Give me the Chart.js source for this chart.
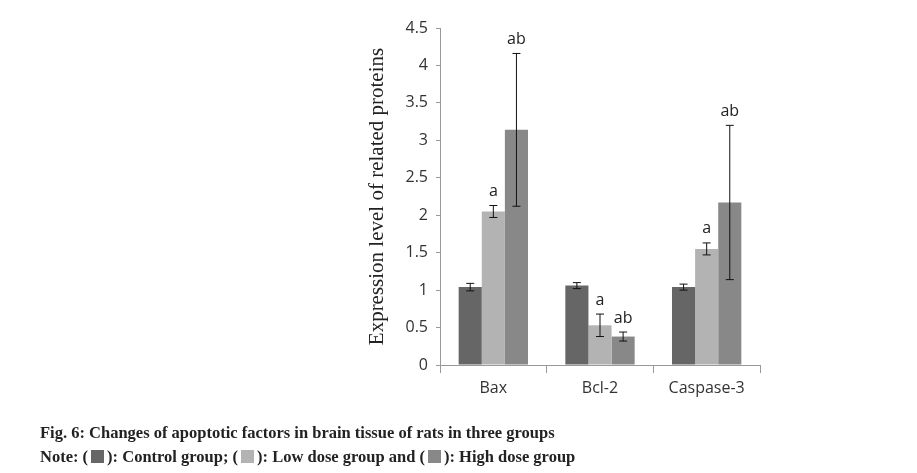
<!DOCTYPE html>
<html>
<head>
<meta charset="utf-8">
<script src="https://cdn.jsdelivr.net/npm/chart.js@4"></script>
<style>
  body { margin: 0; background: #fff; }
  #wrap { position: relative; width: 917px; height: 473px; }
  .cap { position: absolute; left: 40px; font: bold 16.5px "Liberation Serif", serif; color: #222; }
  .sq { display: inline-block; width: 13px; height: 13px; vertical-align: -1px; margin: 0 3px; }
</style>
</head>
<body>
<div id="wrap">
  <canvas id="c" width="917" height="473"></canvas>
  <div class="cap" style="top:423px">Fig. 6: Changes of apoptotic factors in brain tissue of rats in three groups</div>
  <div class="cap" style="top:447px">Note: (<span class="sq" style="background:#666"></span>): Control group; (<span class="sq" style="background:#b3b3b3"></span>): Low dose group and (<span class="sq" style="background:#888"></span>): High dose group</div>
</div>
<script>
// 数据
var categories = ['Bax', 'Bcl-2', 'Caspase-3'];
var controlVals = [1.04, 1.06, 1.04];
var controlErr = [0.05, 0.04, 0.04];
var lowVals = [2.05, 0.53, 1.55];
var lowErr = [0.08, 0.15, 0.08];
var highVals = [3.14, 0.38, 2.17];
var highErr = [1.02, 0.06, 1.03];
var lowMarks = ['a', 'a', 'a'];
var highMarks = ['ab', 'ab', 'ab'];

// 误差线和标记
var errorBarPlugin = {
    id: 'errorBars',
    afterDatasetsDraw: function(chart) {
        var ctx = chart.ctx;
        var y = chart.scales.y;
        ctx.save();
        ctx.strokeStyle = '#111';
        ctx.lineWidth = 1;
        chart.data.datasets.forEach(function(ds, di) {
            var meta = chart.getDatasetMeta(di);
            meta.data.forEach(function(bar, i) {
                var v = ds.data[i], e = ds.err[i];
                var top = y.getPixelForValue(v + e), bot = y.getPixelForValue(v - e);
                ctx.beginPath();
                ctx.moveTo(bar.x, top); ctx.lineTo(bar.x, bot);
                ctx.moveTo(bar.x - 4, top); ctx.lineTo(bar.x + 4, top);
                ctx.moveTo(bar.x - 4, bot); ctx.lineTo(bar.x + 4, bot);
                ctx.stroke();
                if (ds.marks && ds.marks[i]) {
                    ctx.fillStyle = '#222';
                    ctx.font = '16px "Open Sans", sans-serif';
                    ctx.textAlign = 'center';
                    ctx.textBaseline = 'bottom';
                    ctx.fillText(ds.marks[i], bar.x, top - 6);
                }
            });
        });
        ctx.restore();
    }
};

new Chart(document.getElementById('c'), {
    type: 'bar',
    data: {
        labels: categories,
        datasets: [
            { label: 'Control', data: controlVals, err: controlErr, backgroundColor: '#666666' },
            { label: 'Low', data: lowVals, err: lowErr, marks: lowMarks, backgroundColor: '#b3b3b3' },
            { label: 'High', data: highVals, err: highErr, marks: highMarks, backgroundColor: '#888888' }
        ]
    },
    options: {
        responsive: false,
        animation: false,
        layout: { padding: { left: 365, right: 157, top: 28, bottom: 68 } },
        datasets: { bar: { barPercentage: 1, categoryPercentage: 0.65 } },
        plugins: { legend: { display: false }, tooltip: { enabled: false } },
        scales: {
            x: {
                afterFit: function(s) { s.height = 40; },
                grid: { offset: true, drawOnChartArea: false, tickLength: 8, color: '#999' },
                border: { color: '#999' },
                ticks: { color: '#333', font: { size: 16, family: '"Open Sans", sans-serif' }, padding: 6 }
            },
            y: {
                min: 0, max: 4.5,
                afterFit: function(s) { s.width = 75; },
                grid: { drawOnChartArea: false, tickLength: 4, color: '#999' },
                border: { color: '#999' },
                ticks: {
                    stepSize: 0.5, color: '#333', padding: 8,
                    font: { size: 16, family: '"Open Sans", sans-serif' },
                    callback: function(v) { return String(v); }
                },
                title: { display: true, text: 'Expression level of related proteins', color: '#222', font: { size: 21, family: '"Liberation Serif", serif' }, padding: 0 }
            }
        }
    },
    plugins: [errorBarPlugin]
});
</script>
</body>
</html>
